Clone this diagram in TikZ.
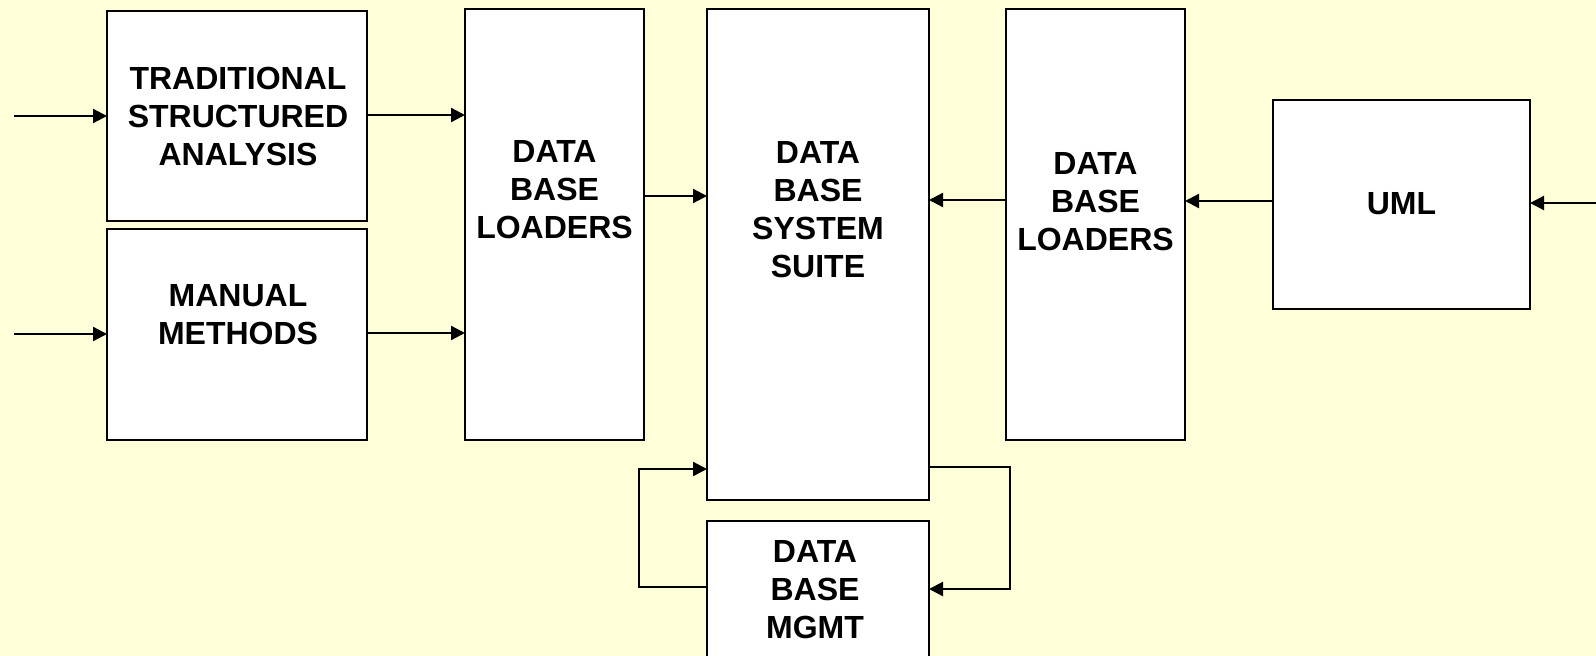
\documentclass[tikz,border=0pt]{standalone}
\usepackage{fontspec}
\setmainfont{Liberation Sans}
\usetikzlibrary{arrows.meta}
\definecolor{paper}{HTML}{FFFFDA}
\tikzset{
  blockbox/.style={draw=black, fill=white, line width=2.8pt, inner sep=0pt, outer sep=0pt},
  blocktext/.style={align=center, inner sep=0pt, font=\fontsize{32}{38}\selectfont\bfseries},
  flow/.style={line width=2.3pt, -{Triangle[length=14pt, width=14pt]}},
}
\begin{document}
\begin{tikzpicture}[x=1pt, y=-1pt]
  \useasboundingbox (0,0) rectangle (1596,656);
  \clip (0,0) rectangle (1596,656);
  \fill[paper] (0,0) rectangle (1596,656);

  % blocks
  \node[blockbox, minimum width=260pt, minimum height=210pt] (tsa) at (237,116) {};
  \node[blockbox, minimum width=260pt, minimum height=211pt] (man) at (237,334.5) {};
  \node[blockbox, minimum width=179pt, minimum height=431pt] (ldA) at (554.5,224.5) {};
  \node[blockbox, minimum width=222pt, minimum height=491pt] (suite) at (818,254.5) {};
  \node[blockbox, minimum width=179pt, minimum height=431pt] (ldB) at (1095.5,224.5) {};
  \node[blockbox, minimum width=257pt, minimum height=209pt] (uml) at (1401.5,204.5) {};
  \node[blockbox, minimum width=222pt, minimum height=179pt] (mgmt) at (818,610.5) {};

  % labels
  \node[blocktext] (tsa-t) at (238,116) {TRADITIONAL\\STRUCTURED\\ANALYSIS};
  \node[blocktext] (man-t) at (238,315) {MANUAL\\METHODS};
  \node[blocktext] (ldA-t) at (554.5,190) {DATA\\BASE\\LOADERS};
  \node[blocktext] (suite-t) at (818,210) {DATA\\BASE\\SYSTEM\\SUITE};
  \node[blocktext] (ldB-t) at (1095.5,201.5) {DATA\\BASE\\LOADERS};
  \node[blocktext] (uml-t) at (1401.5,203.5) {UML};
  \node[blocktext] (mgmt-t) at (815,589.5) {DATA\\BASE\\MGMT};

  % free ends of the incoming arrows
  \coordinate (inA) at (14,116);
  \coordinate (inB) at (14,334);
  \coordinate (inC) at (1596,203);

  % connectors
  \draw[flow] (inA) -- (tsa.west |- inA);
  \draw[flow] (inB) -- (man.west |- inB);
  \draw[flow] (tsa.east |- 0,115) -- (ldA.west |- 0,115);
  \draw[flow] (man.east |- 0,333) -- (ldA.west |- 0,333);
  \draw[flow] (ldA.east |- 0,196) -- (suite.west |- 0,196);
  \draw[flow] (ldB.west |- 0,200) -- (suite.east |- 0,200);
  \draw[flow] (uml.west |- 0,201) -- (ldB.east |- 0,201);
  \draw[flow] (inC) -- (uml.east |- inC);

  % management feedback loops
  \draw[flow] (mgmt.west |- 0,587) -- (639,587) -- (639,469) -- (suite.west |- 0,469);
  \draw[flow] (suite.east |- 0,467) -- (1010,467) -- (1010,589) -- (mgmt.east |- 0,589);
\end{tikzpicture}
\end{document}
